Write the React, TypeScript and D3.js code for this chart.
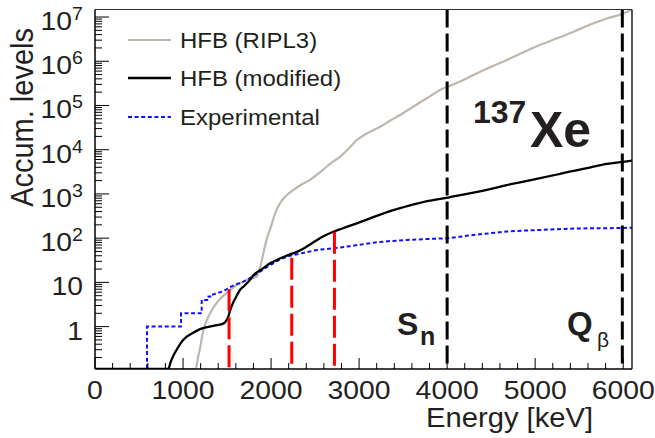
import React from "react";
import * as d3 from "d3";

// Canvas and plot frame
const W = 655;
const H = 438;
const X0 = 95;
const X1 = 632;
const Y0 = 369;
const Y1 = 9.5;

const E_MAX = 6100;
const N_MIN = 0.11;
const N_MAX = 1.48e7;

// Axis ticks
const xMajorTicks = [0, 1000, 2000, 3000, 4000, 5000, 6000];
const yDecades = [0, 1, 2, 3, 4, 5, 6, 7];

// HFB (RIPL3) cumulative level density
const ripl3E = [0, 1144, 1170, 1193, 1231, 1270, 1307, 1360, 1420, 1515, 1600, 1686, 1760, 1837, 1870, 1900, 1930, 1960, 1989, 2050, 2102, 2180, 2254, 2350, 2443, 2540, 2633, 2700, 2784, 2880, 2974, 3100, 3239, 3350, 3466, 3600, 3769, 3920, 4014, 4148, 4299, 4500, 4678, 4870, 5057, 5250, 5436, 5620, 5815, 6000, 6100];
const ripl3N = [0, 0.11, 0.2, 0.32, 0.84, 1.4, 2.0, 3.0, 4.2, 6.2, 8.5, 10.4, 12, 13.5, 20, 35, 65, 110, 160, 380, 617, 950, 1230, 1650, 2080, 2900, 4170, 5300, 6900, 10500, 16600, 24000, 33000, 45000, 61000, 90000, 146000, 225000, 270000, 350000, 490000, 750000, 1.07e6, 1.6e6, 2.35e6, 3.3e6, 4.65e6, 6.7e6, 9.3e6, 1.2e7, 1.5e7];

// HFB (modified)
const modE = [0, 832, 860, 900, 928, 980, 1042, 1100, 1193, 1300, 1402, 1450, 1490, 1515, 1534, 1570, 1610, 1648, 1686, 1761, 1800, 1860, 1913, 1989, 2064, 2150, 2216, 2292, 2380, 2443, 2519, 2600, 2708, 2800, 3011, 3200, 3352, 3500, 3693, 3920, 4014, 4148, 4299, 4500, 4678, 4870, 5057, 5250, 5436, 5620, 5815, 6000, 6100];
const modN = [0, 0.11, 0.16, 0.24, 0.3, 0.44, 0.59, 0.7, 0.88, 1.0, 1.1, 1.15, 1.35, 1.7, 2.3, 3.5, 5, 6.8, 8, 11.4, 14.5, 18, 21, 27, 32, 38, 43, 49, 60, 72, 90, 112, 140, 163, 230, 320, 410, 500, 630, 770, 830, 945, 1070, 1300, 1590, 1900, 2270, 2750, 3330, 3950, 4760, 5300, 5650];

// Experimental cumulative levels (staircase at low energy)
const expE = [0, 591, 591, 977, 977, 1212, 1212, 1290, 1290, 1340, 1340, 1400, 1458, 1534, 1600, 1686, 1723, 1800, 1875, 1950, 2026, 2100, 2216, 2310, 2400, 2519, 2708, 2898, 3163, 3350, 3542, 3800, 4014, 4148, 4299, 4500, 4678, 4870, 5057, 5250, 5436, 5620, 5815, 6000, 6100];
const expN = [0, 0, 1, 1, 2, 2, 4, 4, 4.8, 4.8, 5.3, 5.8, 6.3, 7.8, 9, 10.4, 11.4, 14, 17.5, 22, 27, 33, 40, 44, 48, 54, 59, 66, 79, 86, 91, 96, 100, 108, 118, 130, 141, 148, 153, 160, 165, 167, 168, 170, 172];

// Red markers
const markerE = [1523, 2235, 2720];
const markerN = [7, 36, 140];

// Threshold energies
const snE = 4000;
const qbE = 5990;

const legendItems = ["HFB (RIPL3)", "HFB (modified)", "Experimental"];

const FONT = "'Liberation Sans', Arial, Helvetica, sans-serif";
const TEXT = "#231f20";
const GRAY = "#bfb6ad";
const STRETCH = 1.09;

const x = d3.scaleLinear().domain([0, E_MAX]).range([X0, X1]);
const y = d3.scaleLog().domain([N_MIN, N_MAX]).range([Y0, Y1]);

const zip = (es: number[], ns: number[]) => es.map((e, i) => [e, ns[i]] as [number, number]);

const smoothLine = d3
  .line<[number, number]>()
  .x((d) => x(d[0]))
  .y((d) => y(Math.max(d[1], N_MIN)))
  .curve(d3.curveMonotoneX);

const straightLine = d3
  .line<[number, number]>()
  .x((d) => x(d[0]))
  .y((d) => y(Math.max(d[1], N_MIN)));

function Label(props: {
  x: number;
  y: number;
  size: number;
  anchor?: string;
  weight?: string;
  stretch?: number;
  children: React.ReactNode;
}) {
  const s = props.stretch ?? STRETCH;
  return (
    <text
      transform={`translate(${props.x},${props.y}) scale(${s},1)`}
      fontSize={props.size}
      fontFamily={FONT}
      fontWeight={props.weight ?? "normal"}
      textAnchor={props.anchor ?? "start"}
      fill={TEXT}
    >
      {props.children}
    </text>
  );
}

export default function App() {
  const yMinor: number[] = [];
  for (let e = -1; e <= 7; e++) {
    for (let k = 2; k <= 9; k++) {
      const v = k * Math.pow(10, e);
      if (v >= N_MIN && v <= N_MAX) yMinor.push(v);
    }
  }
  const xMinor = d3.range(0, E_MAX + 1, 200).filter((v) => v % 1000 !== 0);

  const legendY = [40, 78, 117];

  return (
    <svg
      width={W}
      height={H}
      style={{ position: "absolute", left: 0, top: 0, background: "#fff" }}
    >
      <defs>
        <clipPath id="plot">
          <rect x={X0} y={Y1} width={X1 - X0} height={Y0 - Y1} />
        </clipPath>
      </defs>

      {/* curves */}
      <g clipPath="url(#plot)" fill="none">
        <path d={smoothLine(zip(ripl3E, ripl3N)) ?? ""} stroke={GRAY} strokeWidth={2.2} />
        <path d={straightLine(zip(expE, expN)) ?? ""} stroke="#1010ff" strokeWidth={2} strokeDasharray="4,2.6" />
        <path d={smoothLine(zip(modE, modN)) ?? ""} stroke="#000" strokeWidth={2.3} />
      </g>

      {/* red markers */}
      {markerE.map((e, i) => (
        <line
          key={e}
          x1={x(e)}
          x2={x(e)}
          y1={y(markerN[i])}
          y2={Y0}
          stroke="#ff0000"
          strokeWidth={3}
          strokeDasharray="22,6"
        />
      ))}

      {/* Sn and Q_beta lines */}
      {[snE, qbE].map((e) => (
        <line
          key={e}
          x1={x(e)}
          x2={x(e)}
          y1={Y1}
          y2={Y0}
          stroke="#000"
          strokeWidth={3}
          strokeDasharray="18,6"
        />
      ))}

      {/* frame */}
      <line x1={X0} x2={X1} y1={Y1} y2={Y1} stroke="#333" strokeWidth={1} />
      <line x1={X1} x2={X1} y1={Y1} y2={Y0} stroke="#000" strokeWidth={1.3} />
      <line x1={X0} x2={X0} y1={Y1} y2={Y0} stroke="#000" strokeWidth={1.5} />
      <line x1={X0} x2={X1} y1={Y0} y2={Y0} stroke="#000" strokeWidth={1.5} />

      {/* y ticks */}
      {yDecades.map((d) => (
        <line key={"yM" + d} x1={X0} x2={X0 + 14} y1={y(Math.pow(10, d))} y2={y(Math.pow(10, d))} stroke="#000" strokeWidth={1} />
      ))}
      {yMinor.map((v) => (
        <line key={"ym" + v} x1={X0} x2={X0 + 7} y1={y(v)} y2={y(v)} stroke="#000" strokeWidth={1} />
      ))}

      {/* x ticks */}
      {xMajorTicks.map((v) => (
        <line key={"xM" + v} x1={x(v)} x2={x(v)} y1={Y0} y2={Y0 - 11} stroke="#000" strokeWidth={1} />
      ))}
      {xMinor.map((v) => (
        <line key={"xm" + v} x1={x(v)} x2={x(v)} y1={Y0} y2={Y0 - 6} stroke="#000" strokeWidth={1} />
      ))}

      {/* y tick labels */}
      {yDecades.map((d) => {
        const ty = y(Math.pow(10, d)) + 13;
        if (d === 0) return <Label key={"yl" + d} x={83} y={ty} size={26} anchor="end">1</Label>;
        if (d === 1) return <Label key={"yl" + d} x={83} y={ty} size={26} anchor="end">10</Label>;
        return (
          <Label key={"yl" + d} x={83} y={ty} size={26} anchor="end">
            10<tspan fontSize={18} dy={-10}>{d}</tspan>
          </Label>
        );
      })}

      {/* x tick labels */}
      {xMajorTicks.map((v) => (
        <Label key={"xl" + v} x={x(v)} y={398.5} size={26} anchor="middle">
          {v}
        </Label>
      ))}

      {/* axis titles */}
      <Label x={593} y={426.5} size={27} anchor="end" stretch={1.08}>
        Energy [keV]
      </Label>
      <text
        transform={`translate(33,28) scale(1.08,1) rotate(-90)`}
        fontSize={29}
        fontFamily={FONT}
        textAnchor="end"
        fill={TEXT}
      >
        Accum. levels
      </text>

      {/* legend */}
      <line x1={128} x2={171} y1={legendY[0]} y2={legendY[0]} stroke={GRAY} strokeWidth={2.2} />
      <line x1={128} x2={171} y1={legendY[1]} y2={legendY[1]} stroke="#000" strokeWidth={2.3} />
      <line x1={128} x2={171} y1={legendY[2]} y2={legendY[2]} stroke="#1010ff" strokeWidth={2} strokeDasharray="4,2.6" />
      {legendItems.map((t, i) => (
        <Label key={t} x={180} y={legendY[i] + 8} size={22}>
          {t}
        </Label>
      ))}

      {/* nucleus label */}
      <Label x={473} y={123} size={32} weight="bold" stretch={1}>137</Label>
      <Label x={530} y={146.5} size={50} weight="bold" stretch={1}>Xe</Label>

      {/* threshold labels */}
      <Label x={397} y={335} size={32} weight="bold" stretch={1}>S</Label>
      <Label x={420} y={345} size={25} weight="bold" stretch={1}>n</Label>
      <Label x={567} y={335} size={33} weight="bold" stretch={1}>Q</Label>
      <Label x={597} y={347} size={21} stretch={1}>β</Label>
    </svg>
  );
}
